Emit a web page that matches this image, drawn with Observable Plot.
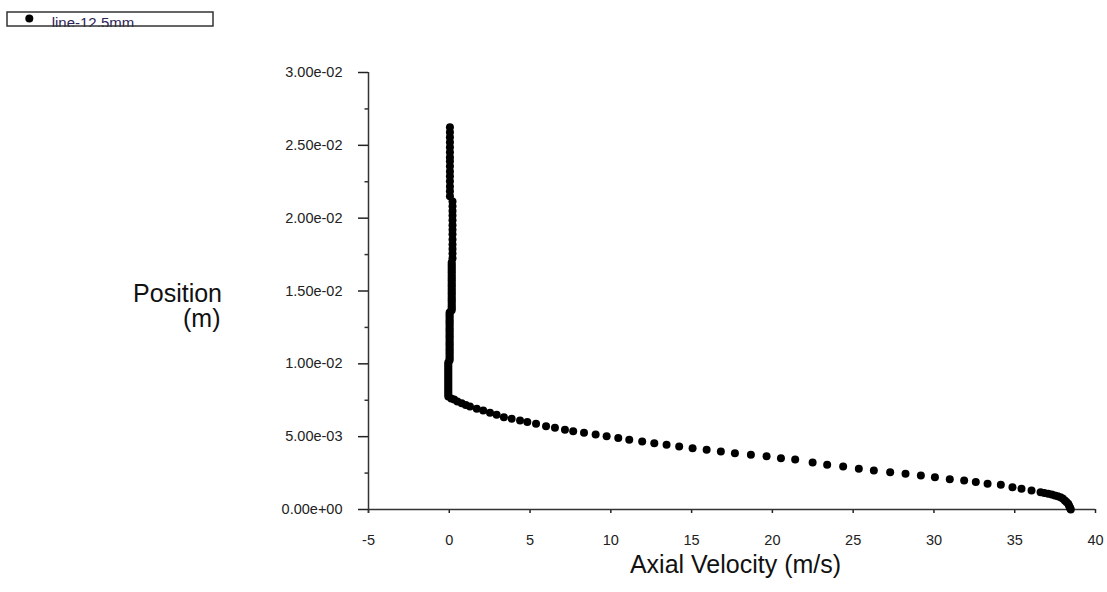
<!DOCTYPE html>
<html>
<head>
<meta charset="utf-8">
<script src="https://cdn.jsdelivr.net/npm/d3@7"></script>
<script src="https://cdn.jsdelivr.net/npm/@observablehq/plot@0.6"></script>
<style>
  html, body { margin: 0; padding: 0; background: #fff; }
  #wrap { position: relative; width: 1107px; height: 592px; }
  #legend { position: absolute; left: 6px; top: 11px; }
  #chart svg { display: block; }
</style>
</head>
<body>
<div id="wrap">
  <div id="chart"></div>
  <div id="legend"></div>
</div>
<script>
// ---- axis ticks ----
const xTicks = [-5, 0, 5, 10, 15, 20, 25, 30, 35, 40];
const xTickLabels = ["-5", "0", "5", "10", "15", "20", "25", "30", "35", "40"];
const yTicks = [0, 0.005, 0.01, 0.015, 0.02, 0.025, 0.03];
const yTickLabels = ["0.00e+00", "5.00e-03", "1.00e-02", "1.50e-02", "2.00e-02", "2.50e-02", "3.00e-02"];
const yMinorTicks = [0.0025, 0.0075, 0.0125, 0.0175, 0.0225, 0.0275];

const seriesName = "line-12.5mm";
const xTitle = "Axial Velocity (m/s)";
const yTitleLines = ["Position", "(m)"];

// ---- near-zero velocity stem (upper part of the line) ----
const stemVelocity = [
  0.04, 0.04, 0.04, 0.04, 0.04, 0.04, 0.04, 0.04, 0.04, 0.04, 0.04, 0.04, 0.04, 0.04, 0.04,
  0.2, 0.2, 0.2, 0.2, 0.2, 0.2, 0.2, 0.2, 0.2, 0.2, 0.2, 0.2, 0.2,
  0.15, 0.15, 0.15, 0.15, 0.15, 0.15, 0.15, 0.15, 0.15, 0.15, 0.15, 0.15, 0.15, 0.15, 0.15, 0.15, 0.15, 0.15, 0.15, 0.15, 0.15, 0.15, 0.15, 0.15, 0.15,
  0.02, 0.02, 0.02, 0.02, 0.02, 0.02, 0.02, 0.02, 0.02, 0.02, 0.02, 0.02, 0.02, 0.02, 0.02, 0.02, 0.02, 0.02, 0.02, 0.02, 0.02, 0.02, 0.02, 0.02, 0.02,
  -0.06, -0.06, -0.06, -0.06, -0.06, -0.06, -0.06, -0.06, -0.06, -0.06, -0.06, -0.06, -0.06, -0.06, -0.06, -0.06, -0.06, -0.06
];
const stemPosition = [
  0.02624, 0.02590, 0.02555, 0.02521, 0.02486, 0.02452, 0.02418, 0.02390, 0.02356, 0.02321, 0.02287, 0.02253, 0.02218, 0.02184, 0.02150,
  0.02115, 0.02081, 0.02050, 0.02019, 0.01985, 0.01951, 0.01920, 0.01889, 0.01854, 0.01820, 0.01789, 0.01758, 0.01724,
  0.01696, 0.01682, 0.01669, 0.01655, 0.01641, 0.01628, 0.01614, 0.01600, 0.01586, 0.01573, 0.01559, 0.01545, 0.01532, 0.01518, 0.01504, 0.01490, 0.01477, 0.01463, 0.01449, 0.01436, 0.01422, 0.01408, 0.01394, 0.01381, 0.01367,
  0.01353, 0.01339, 0.01326, 0.01312, 0.01298, 0.01285, 0.01271, 0.01257, 0.01243, 0.01230, 0.01216, 0.01202, 0.01189, 0.01175, 0.01161, 0.01147, 0.01134, 0.01120, 0.01106, 0.01093, 0.01079, 0.01065, 0.01051, 0.01038, 0.01024,
  0.01010, 0.00996, 0.00982, 0.00968, 0.00955, 0.00941, 0.00927, 0.00913, 0.00900, 0.00886, 0.00872, 0.00858, 0.00845, 0.00831, 0.00817, 0.00803, 0.00790, 0.00776
];

// ---- jet profile (lower part of the line) ----
const profileVelocity = [
  0.12, 0.3, 0.5, 0.77, 1.02, 1.28, 1.70, 2.10, 2.52, 2.93, 3.38, 3.86, 4.38, 4.83, 5.37, 5.99, 6.54, 7.16, 7.67, 8.34,
  9.06, 9.74, 10.46, 11.14, 11.94, 12.69, 13.45, 14.23, 15.06, 15.93, 16.81, 17.68, 18.67, 19.64, 20.53, 21.41, 22.49,
  23.39, 24.38, 25.35, 26.28, 27.29, 28.24, 29.19, 30.06, 30.98, 31.87, 32.59, 33.32, 34.14, 34.86, 35.42, 36.04, 36.60,
  36.83, 37.07, 37.29, 37.48, 37.66, 37.83, 37.97, 38.10, 38.20, 38.31, 38.36, 38.41, 38.44, 38.47
];
const profilePosition = [
  0.00762, 0.00755, 0.00742, 0.00730, 0.00718, 0.00707, 0.00692, 0.00680, 0.00664, 0.00650, 0.00634, 0.00623, 0.00611, 0.00600, 0.00589, 0.00572, 0.00561, 0.00547, 0.00538, 0.00527,
  0.00515, 0.00503, 0.00490, 0.00479, 0.00467, 0.00455, 0.00444, 0.00433, 0.00421, 0.00410, 0.00398, 0.00387, 0.00376, 0.00366, 0.00352, 0.00343, 0.00322,
  0.00308, 0.00296, 0.00280, 0.00268, 0.00256, 0.00245, 0.00234, 0.00222, 0.00208, 0.00199, 0.00188, 0.00177, 0.00170, 0.00153, 0.00142, 0.00130, 0.00119,
  0.00113, 0.00108, 0.00103, 0.00096, 0.00091, 0.00084, 0.00076, 0.00062, 0.00051, 0.00039, 0.00027, 0.00016, 0.00007, 0.0
];

// table for the library
const points = [];
stemVelocity.forEach((v, i) => points.push({velocity: v, position: stemPosition[i]}));
profileVelocity.forEach((v, i) => points.push({velocity: v, position: profilePosition[i]}));

// minor tick: short line to the left of the y axis
const minorTickSymbol = {
  draw(ctx) { ctx.moveTo(-4, 0); ctx.lineTo(0, 0); }
};

const fontFamily = "'Liberation Sans', Arial, Helvetica, sans-serif";
const markerR = 4;

const chart = Plot.plot({
  width: 1107,
  height: 592,
  marginLeft: 368,
  marginRight: 12,
  marginTop: 72,
  marginBottom: 83,
  style: {fontFamily, fontSize: "14.5px", color: "#222", background: "#fff", overflow: "visible"},
  x: {
    domain: [-5, 40],
    ticks: xTicks,
    tickFormat: d => xTickLabels[xTicks.indexOf(d)],
    tickSize: 4,
    tickPadding: 21,
    label: null
  },
  y: {
    domain: [0, 0.03],
    ticks: yTicks,
    tickFormat: d => yTickLabels[yTicks.findIndex(t => Math.abs(t - d) < 1e-9)],
    tickSize: 10,
    tickPadding: 16,
    label: null
  },
  marks: [
    Plot.ruleX([-5], {stroke: "#333", strokeWidth: 1.5, insetBottom: -4}),
    Plot.ruleY([0], {stroke: "#333", strokeWidth: 1.5}),
    Plot.dot(yMinorTicks, {y: d => d, frameAnchor: "left", symbol: minorTickSymbol, fill: "none", stroke: "#333", strokeWidth: 1.5}),
    Plot.dot(points, {x: "velocity", y: "position", r: markerR, symbol: "circle", fill: "#000", stroke: "none"}),
    Plot.text([xTitle], {text: d => d, frameAnchor: "bottom", dx: 3.5, dy: 63, fontSize: 25, fill: "#111"}),
    Plot.text([yTitleLines[0]], {text: d => d, frameAnchor: "left", textAnchor: "end", dx: -146.5, dy: 3.2, fontSize: 25, fill: "#111"}),
    Plot.text([yTitleLines[1]], {text: d => d, frameAnchor: "left", textAnchor: "end", dx: -148, dy: 27.5, fontSize: 25, fill: "#111"})
  ]
});
document.getElementById("chart").appendChild(chart);

// thicker axis ticks
chart.querySelectorAll('g[aria-label$="tick"] path, g[aria-label$="axis"] path').forEach(p => {
  p.setAttribute("stroke-width", "1.5");
});

// legend box (label clipped by the box, as in the reference)
const legendSvg = d3.create("svg").attr("width", 209).attr("height", 16);
legendSvg.append("rect").attr("x", 0.5).attr("y", 0.5).attr("width", 207).attr("height", 15).attr("fill", "#fff");
legendSvg.append("circle").attr("cx", 23.3).attr("cy", 7.5).attr("r", markerR).attr("fill", "#000");
legendSvg.append("text")
  .attr("x", 45.7).attr("y", 17)
  .attr("font-family", fontFamily).attr("font-size", 15)
  .attr("fill", "#2e2458")
  .text(seriesName);
legendSvg.append("rect").attr("x", 1).attr("y", 1).attr("width", 206).attr("height", 14)
  .attr("fill", "none").attr("stroke", "#333").attr("stroke-width", 1.5);
document.getElementById("legend").appendChild(legendSvg.node());
</script>
</body>
</html>
